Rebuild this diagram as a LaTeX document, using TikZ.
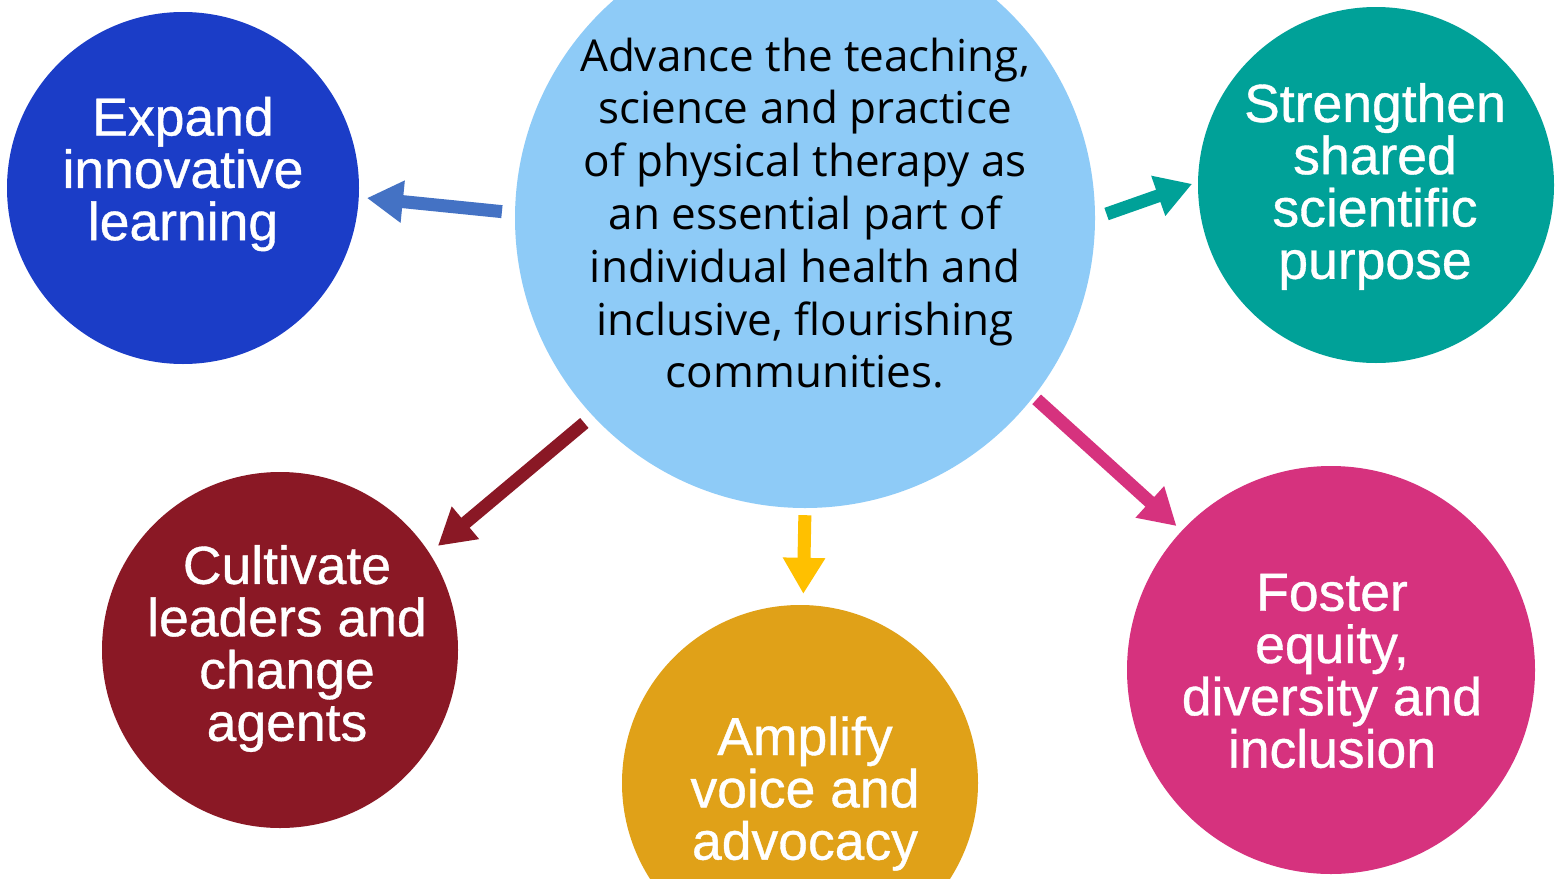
\documentclass[tikz,border=0pt]{standalone}
\usepackage{fontspec}
\setmainfont{Liberation Sans}
\newfontfamily\goalfont[FakeBold=0.7]{Liberation Sans}
\newfontfamily\opensans{Open Sans}
\usetikzlibrary{arrows.meta}
\definecolor{cmain}{RGB}{142,203,247}
\definecolor{cexpand}{RGB}{27,61,199}
\definecolor{cstrength}{RGB}{0,161,152}
\definecolor{ccult}{RGB}{138,24,37}
\definecolor{campl}{RGB}{224,161,24}
\definecolor{cfoster}{RGB}{214,50,126}
\definecolor{abl}{RGB}{68,114,196}
\definecolor{ayel}{RGB}{255,192,0}
\begin{document}
\begin{tikzpicture}[x=1pt,y=-1pt,
  disc/.style={circle, inner sep=0pt, draw=none, minimum size=#1},
  goal/.style={text=white, align=center, inner sep=0pt,
    font=\goalfont\fontsize{53.5}{52.3}\selectfont},
  mission/.style={text=black, align=center, inner sep=0pt,
    font=\opensans\fontsize{44}{52.8}\selectfont},
  link/.style={line width=13pt, -{Triangle[length=36pt,width=40pt]}},
]
\useasboundingbox (0,0) rectangle (1560,878);
\fill[white] (0,0) rectangle (1560,878);
\clip (0,0) rectangle (1560,878);

\node[disc=580pt, fill=cmain] (main) at (805,218) {};
\node[disc=352pt, fill=cexpand] (expand) at (183,188) {};
\node[disc=356pt, fill=cstrength] (strength) at (1376,185) {};
\node[disc=356pt, fill=ccult] (cult) at (280,650) {};
\node[disc=356pt, fill=campl] (ampl) at (800,783) {};
\node[disc=408pt, fill=cfoster] (foster) at (1331,670) {};

\node[mission] (t-main) at (805,213) {Advance the teaching,\\science and practice\\of physical therapy as\\an essential part of\\individual health and\\inclusive, flourishing\\communities.};
\node[goal] (t-expand) at (183,174) {Expand\\innovative\\learning};
\node[goal] (t-strength) at (1375,186.5) {Strengthen\\shared\\scientific\\purpose};
\node[goal] (t-cult) at (287,648.5) {Cultivate\\leaders and\\change\\agents};
\node[goal] (t-ampl) at (805,793.5) {Amplify\\voice and\\advocacy};
\node[goal] (t-foster) at (1332,671) {Foster\\equity,\\diversity and\\inclusion};

\draw[link, abl, shorten <=13pt, shorten >=8pt] (main.179.05) -- (expand.-3.1);
\draw[link, cstrength, shorten <=12pt, shorten >=6pt] (main.0.95) -- (strength.179.4);
\draw[link, ccult, shorten <=11pt, shorten >=11pt] (main.223.1) -- (cult.33.8);
\draw[link, ayel, shorten <=7pt, shorten >=11pt] (main.270) -- (ampl.89.4);
\draw[link, cfoster, shorten <=4pt, shorten >=7pt] (main.-38.8) -- (foster.137.7);
\end{tikzpicture}
\end{document}
